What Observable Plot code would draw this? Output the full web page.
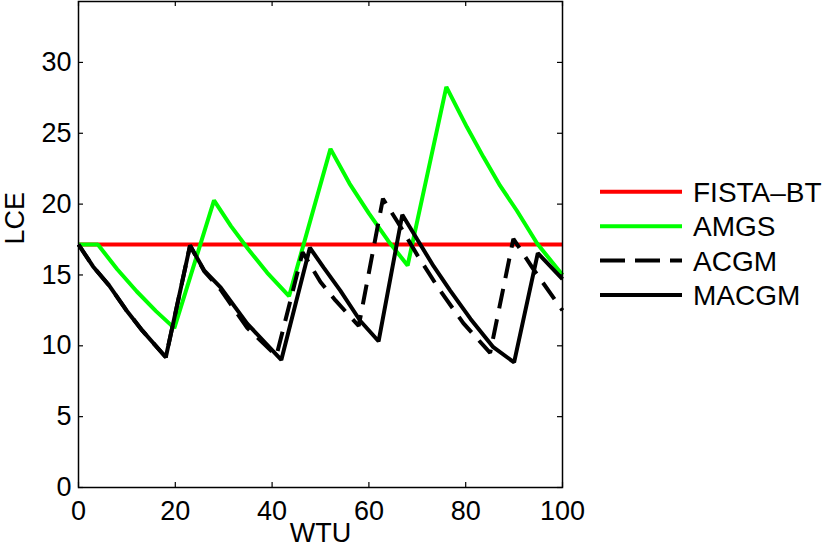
<!DOCTYPE html>
<html>
<head>
<meta charset="utf-8">
<script src="https://cdn.jsdelivr.net/npm/d3@7"></script>
<script src="https://cdn.jsdelivr.net/npm/@observablehq/plot@0.6"></script>
<style>
  body { margin: 0; background: #fff; }
  #wrap { position: relative; width: 830px; height: 553px; }
  #legend { position: absolute; left: 0; top: 0; }
</style>
</head>
<body>
<div id="wrap"></div>
<script>
// ---- data ----
const xTicks = [0, 20, 40, 60, 80, 100];
const yTicks = [0, 5, 10, 15, 20, 25, 30];

const fistaX = [0, 100];
const fistaY = [17.15, 17.15];

const amgsX = [0, 4, 8, 12, 16, 19.8, 28, 31.5, 35, 39, 43.5, 52.06, 56, 60, 64, 68, 76, 80.25, 83.7, 87.1, 90.55, 94.8, 100];
const amgsY = [17.15, 17.15, 15.4, 13.85, 12.45, 11.25, 20.26, 18.45, 16.85, 15.15, 13.5, 23.9, 21.45, 19.35, 17.4, 15.67, 28.27, 25.44, 23.3, 21.3, 19.55, 17.2, 15.0];

const acgmX = [0, 3, 6.35, 9.8, 13.2, 18.04, 23.05, 26, 29.4, 34.9, 40.9, 46.3, 50, 53.1, 57.9, 62.9, 66, 70, 74.5, 79.5, 85.05, 89.85, 94, 100];
const acgmY = [17.15, 15.6, 14.25, 12.55, 11.07, 9.19, 17.08, 15.25, 13.95, 11.25, 9.3, 16.6, 14.5, 13.2, 11.4, 20.38, 18.7, 16.4, 14.0, 11.6, 9.5, 17.55, 15.4, 12.5];

const macgmX = [0, 3, 6.35, 9.8, 13.2, 18.04, 23.05, 26, 29.4, 34.9, 41.9, 47.8, 50.7, 54.1, 58.2, 62.0, 66.9, 70, 73.4, 76.8, 81, 85.7, 90.0, 94.9, 100];
const macgmY = [17.15, 15.6, 14.25, 12.55, 11.07, 9.19, 17.08, 15.3, 14.1, 11.55, 9.0, 16.92, 15.5, 13.9, 11.77, 10.32, 19.25, 17.5, 15.6, 13.9, 11.9, 9.9, 8.83, 16.54, 14.7];

const seriesNames = ["FISTA\u2013BT", "AMGS", "ACGM", "MACGM"];
const seriesColors = ["#ff0000", "#00ff00", "#000000", "#000000"];
const seriesDash = [null, null, "20,11", null];

const toRows = (xs, ys) => xs.map((x, i) => ({x, y: ys[i]}));
const series = [
  toRows(fistaX, fistaY),
  toRows(amgsX, amgsY),
  toRows(acgmX, acgmY),
  toRows(macgmX, macgmY)
];

// ---- layout ----
const W = 830, H = 553;
const mL = 78, mR = 268, mT = 1, mB = 66;
const fw = W - mL - mR, fh = H - mT - mB;
const tick = 5;
const font = "'Liberation Sans', Arial, Helvetica, sans-serif";

const chart = Plot.plot({
  width: W, height: H,
  marginLeft: mL, marginRight: mR, marginTop: mT, marginBottom: mB,
  x: {domain: [0, 100]},
  y: {domain: [0, 34.3]},
  style: {fontFamily: font, fontSize: "27px", color: "black", background: "white"},
  marks: [
    ...series.map((d, i) => Plot.line(d, {
      x: "x", y: "y", stroke: seriesColors[i], strokeWidth: 4,
      strokeDasharray: seriesDash[i], strokeLinejoin: "miter", strokeLinecap: "butt"
    })),
    // inward ticks on all four sides
    Plot.tickX(xTicks, {x: d => d, insetTop: fh - tick, stroke: "black", strokeWidth: 1.2}),
    Plot.tickX(xTicks, {x: d => d, insetBottom: fh - tick, stroke: "black", strokeWidth: 1.2}),
    Plot.tickY(yTicks, {y: d => d, insetRight: fw - tick, stroke: "black", strokeWidth: 1.2}),
    Plot.tickY(yTicks, {y: d => d, insetLeft: fw - tick, stroke: "black", strokeWidth: 1.2}),
    Plot.frame({stroke: "black", strokeWidth: 1.5}),
    Plot.axisX({ticks: xTicks, tickSize: 0, tickPadding: 13, label: null, fontSize: 27}),
    Plot.axisY({ticks: yTicks, tickSize: 0, tickPadding: 7, label: null, fontSize: 27}),
    Plot.text(["WTU"], {frameAnchor: "bottom", lineAnchor: "top", dy: 35, fontSize: 27, fill: "black"}),
    Plot.text(["LCE"], {frameAnchor: "left", dx: -63.5, rotate: -90, fontSize: 27, fill: "black"})
  ]
});

const wrap = document.getElementById("wrap");
wrap.appendChild(chart);

// ---- legend (right side) ----
const lg = d3.create("svg")
  .attr("id", "legend")
  .attr("width", W).attr("height", H)
  .style("font-family", font);
const rowY = d3.scalePoint().domain(seriesNames).range([191.7, 295]);
seriesNames.forEach((name, i) => {
  const y = rowY(name);
  lg.append("line")
    .attr("x1", 600).attr("x2", 682).attr("y1", y).attr("y2", y)
    .attr("stroke", seriesColors[i]).attr("stroke-width", 4)
    .attr("stroke-dasharray", seriesDash[i] ? "25,10" : null);
  lg.append("text")
    .attr("x", 693).attr("y", y).attr("dy", "0.36em")
    .attr("font-size", 28).attr("fill", "black")
    .text(name);
});
wrap.appendChild(lg.node());
</script>
</body>
</html>
